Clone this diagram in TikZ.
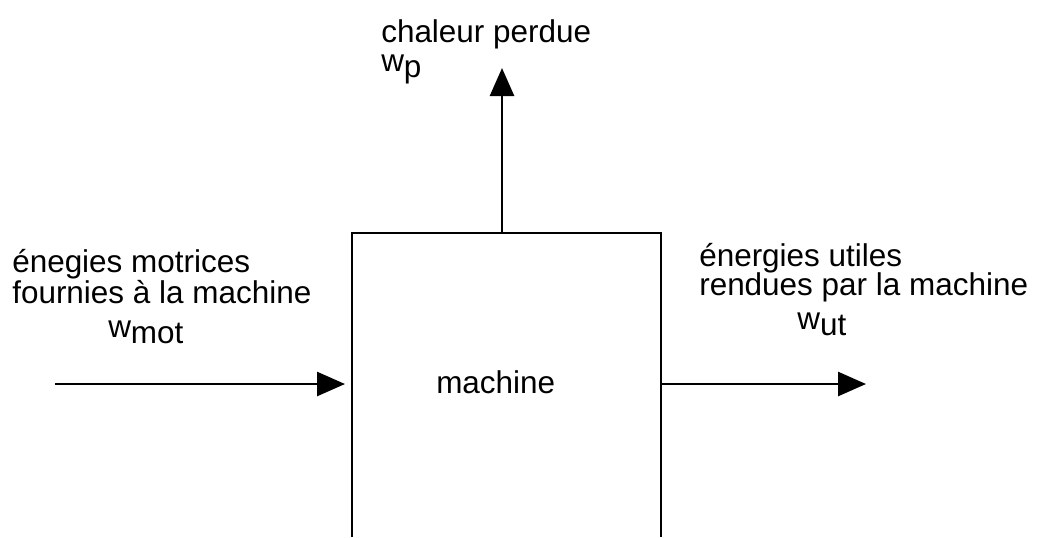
\documentclass[tikz,border=0pt]{standalone}
\usepackage{fontspec}
\setmainfont{Liberation Sans}
\usetikzlibrary{arrows.meta}
\tikzset{
  lbl/.style={anchor=base west, inner sep=0pt, font=\fontsize{23.6pt}{28pt}\selectfont},
  flow/.style={line width=2pt, -{Triangle[length=21pt,width=18pt]}},
  wall/.style={line width=2pt}
}
\newcommand{\sw}[2]{#1\raisebox{-0.2em}{#2}}
\begin{document}
\begin{tikzpicture}[x=0.75pt,y=-0.75pt]
\useasboundingbox (0,0) rectangle (1037,537);
% box (open at bottom)
\coordinate (bl) at (352,537);
\coordinate (tl) at (352,233);
\coordinate (tr) at (661,233);
\coordinate (br) at (661,537);
\draw[wall] (bl) -- (tl) -- (tr) -- (br);
\node[lbl] (machine) at (436,393) {machine};
% top arrow
\coordinate (topout) at (502,233);
\coordinate (toptip) at (502,68);
\draw[flow] (topout) -- (toptip);
\node[lbl] (cp) at (381,42) {chaleur perdue};
\node[lbl] (wp) at (381,71) {\sw{w}{p}};
% left arrow
\coordinate (lin) at (55,384);
\coordinate (lend) at (345,384);
\draw[flow] (lin) -- (lend);
\node[lbl] (em1) at (12,272) {énegies motrices};
\node[lbl] (em2) at (12,303) {fournies à la machine};
\node[lbl] (wmot) at (108,337) {\sw{w}{mot}};
% right arrow
\coordinate (rout) at (661,384);
\coordinate (rtip) at (866,384);
\draw[flow] (rout) -- (rtip);
\node[lbl] (eu1) at (699,266) {énergies utiles};
\node[lbl] (eu2) at (699,295) {rendues par la machine};
\node[lbl] (wut) at (797,329) {\sw{w}{ut}};
\end{tikzpicture}
\end{document}
